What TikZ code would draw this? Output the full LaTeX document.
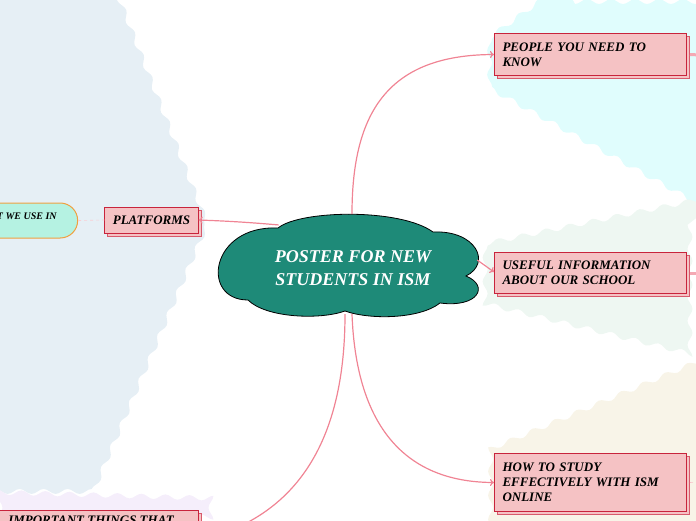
\documentclass[tikz,border=0pt]{standalone}
\usepackage{fontspec}
\setmainfont{Liberation Serif}
\usetikzlibrary{shapes.geometric,shapes.misc,shadows,decorations.pathmorphing,arrows.meta}
\definecolor{bgblue}{HTML}{E6EFF5}
\definecolor{bglav}{HTML}{F5EEFB}
\definecolor{bgcyan}{HTML}{E0FDFD}
\definecolor{bggreen}{HTML}{EEF7F2}
\definecolor{bgbeige}{HTML}{F8F4E8}
\definecolor{boxfill}{HTML}{F5C2C4}
\definecolor{boxdraw}{HTML}{C8243C}
\definecolor{shadowdraw}{HTML}{D85A6C}
\definecolor{conncol}{HTML}{F08494}
\definecolor{cloudfill}{HTML}{1E8A78}
\definecolor{pillfill}{HTML}{B5F2E2}
\definecolor{pilldraw}{HTML}{F0A040}
\tikzset{
  wavy/.style={decorate,decoration={snake,segment length=24pt,amplitude=2.5pt}},
  topicbox/.style={rectangle,fill=boxfill,draw=boxdraw,line width=1pt,
    copy shadow={shadow xshift=3pt,shadow yshift=-3pt,fill=boxfill,draw=shadowdraw,line width=1pt},
    font=\bfseries\itshape\fontsize{13}{15}\selectfont,text=black,
    inner xsep=8pt,inner ysep=4pt},
  conn/.style={draw=conncol,line width=1.2pt,-{To[length=4pt,width=7pt]}},
  stub/.style={draw=conncol!70,line width=3pt},
  cloudline/.style={fill=cloudfill,draw=black,line width=0.8pt},
}
\begin{document}
\begin{tikzpicture}[x=1pt,y=-1pt]
\useasboundingbox (0,0) rectangle (696,520);
\clip (0,0) rectangle (696,520);
% background regions
\fill[bgblue,wavy] (-10,-10) -- (112,-10) -- (205,228) -- (95,486) -- (-10,486) -- cycle;
\fill[bglav,wavy] (-10,492) -- (205,498) -- (205,530) -- (-10,530) -- cycle;
\fill[bgcyan,wavy] (555,-10) -- (493,35) -- (493,78) -- (706,196) -- (706,-10) -- cycle;
\fill[bggreen,wavy] (706,198) -- (493,242) -- (493,300) -- (706,352) -- cycle;
\fill[bgbeige,wavy] (706,358) -- (493,448) -- (493,530) -- (706,530) -- cycle;

% central cloud
\node[ellipse,draw=none,minimum width=262pt,minimum height=94pt,inner sep=0pt] (cloud) at (348,265) {};
\path[cloudline] (278,228) .. controls (300,210) and (400,208) .. (433,232)
  .. controls (476,230) and (492,263) .. (466,276)
  .. controls (490,286) and (478,308) .. (440,303)
  .. controls (420,319) and (370,320) .. (345,311)
  .. controls (320,320) and (266,318) .. (248,300)
  .. controls (200,300) and (210,225) .. (278,228) -- cycle;
\node[text=white,align=center,font=\bfseries\itshape\fontsize{18}{23}\selectfont] (title) at (353,268)
  {POSTER FOR NEW\\STUDENTS IN ISM};

\node[topicbox,minimum width=93pt,minimum height=26pt] (platforms) at (151.5,220) {PLATFORMS};
\node[topicbox,anchor=north west,text width=176pt,minimum height=42pt,align=left] (people) at (494,33)
  {PEOPLE YOU NEED TO\\KNOW};
\node[topicbox,anchor=north west,text width=176pt,minimum height=41pt,align=left] (useful) at (494,252)
  {USEFUL INFORMATION\\ABOUT OUR SCHOOL};
\node[topicbox,anchor=north west,text width=176pt,minimum height=58pt,align=left] (howto) at (494,453)
  {HOW TO STUDY\\EFFECTIVELY WITH ISM\\ONLINE};
\node[topicbox,anchor=north east,minimum width=215pt,minimum height=60pt,align=left,text depth=40pt] (things) at (199,510)
  {IMPORTANT THINGS THAT};

\node[rounded rectangle,fill=pillfill,draw=pilldraw,line width=1pt,minimum height=35pt,minimum width=160pt] (pill) at (1,220.5) {};
\node[anchor=east,font=\bfseries\itshape\fontsize{10}{12}\selectfont] (pilltext) at (pill.east) [xshift=-18pt,yshift=4pt] {APPS THAT WE USE IN};

\coordinate (pend) at (700,55);
\coordinate (uend) at (700,273);
\coordinate (hend) at (700,482);

% connectors
\draw[conn] ([xshift=4pt,yshift=4pt]cloud.north) .. controls (352,110) and (390,55) .. (people.west);
\draw[conn] ([xshift=-2pt,yshift=5pt]cloud.east) -- ([yshift=1pt]useful.west);
\draw[conn] ([xshift=4pt,yshift=-2pt]cloud.south) .. controls (356,420) and (400,482) .. (howto.west);
\draw[conn] (cloud.150) .. controls (245,222) and (225,221) .. (platforms.east);
\draw[draw=conncol,line width=1.2pt] ([xshift=-3pt,yshift=-2pt]cloud.south) .. controls (345,430) and (305,515) .. (things.east);
\draw[draw=conncol!40,line width=0.6pt,dashed] (pill.east) -- (platforms.west);
\draw[stub] ([xshift=3pt]people.east) -- (pend);
\draw[stub] ([xshift=3pt]useful.east) -- (uend);
\draw[draw=conncol!50,line width=0.6pt,dashed] ([xshift=3pt]howto.east) -- (hend);
\end{tikzpicture}
\end{document}
